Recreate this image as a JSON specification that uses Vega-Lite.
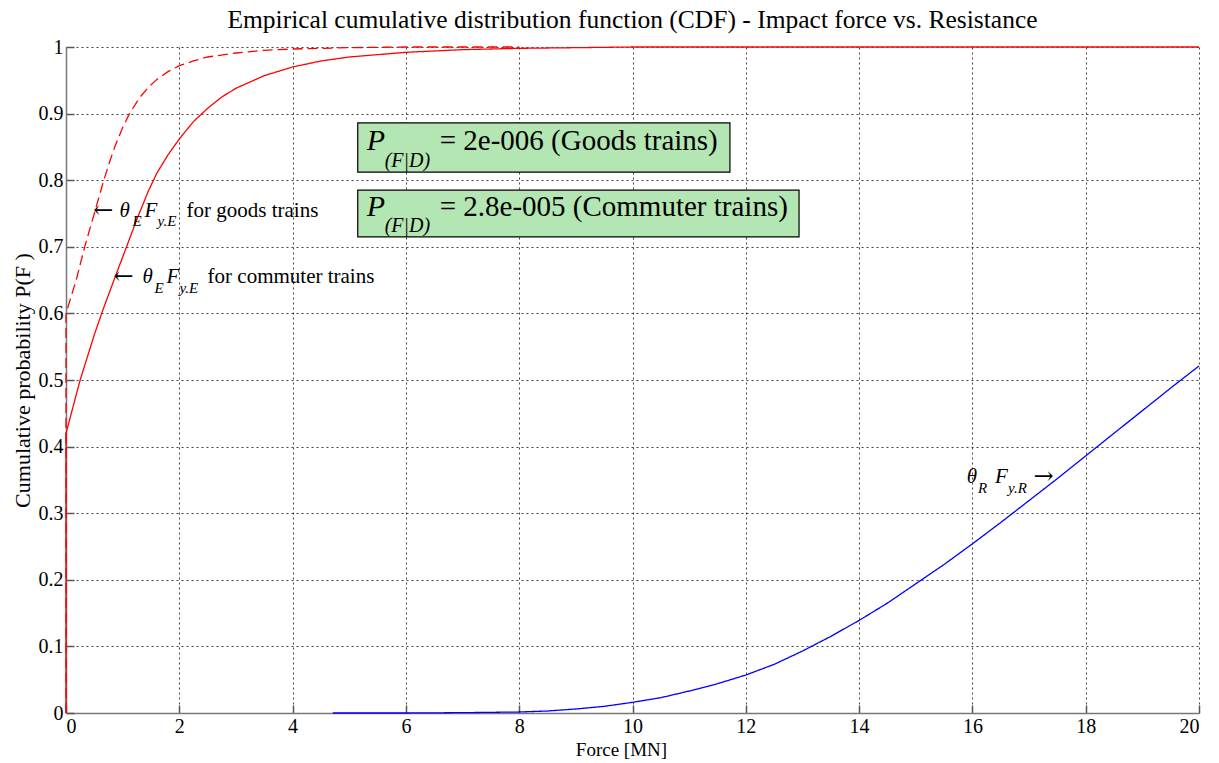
{
  "$schema": "https://vega.github.io/schema/vega-lite/v6.json",
  "width": 1133,
  "height": 666,
  "autosize": "none",
  "padding": {"left": 66, "top": 47, "right": 20, "bottom": 50},
  "background": "white",
  "config": {
    "view": {"stroke": null},
    "font": "Liberation Serif, Times New Roman, serif",
    "axis": {
      "labelFont": "Liberation Serif, Times New Roman, serif",
      "labelFontSize": 20,
      "labelColor": "#000",
      "titleFont": "Liberation Serif, Times New Roman, serif",
      "titleFontSize": 20,
      "titleFontWeight": "normal",
      "titleColor": "#000",
      "domainColor": "#777",
      "domainWidth": 1.5,
      "tickColor": "#555",
      "tickWidth": 1.5,
      "tickSize": -8,
      "labelPadding": 11,
      "gridColor": "#222",
      "gridDash": [2, 3],
      "gridWidth": 1,
      "gridOpacity": 0.85
    }
  },
  "title": {
    "text": "Empirical cumulative distribution function (CDF) - Impact force vs. Resistance",
    "font": "Liberation Serif, Times New Roman, serif",
    "fontSize": 25.5,
    "fontWeight": "normal",
    "color": "#000",
    "anchor": "middle",
    "offset": 4
  },
  "datasets": {
    "curves": [
      {"force": 0, "p": 0, "series": "goods"},
      {"force": 0, "p": 0.6, "series": "goods"},
      {"force": 0.09, "p": 0.625, "series": "goods"},
      {"force": 0.18, "p": 0.65, "series": "goods"},
      {"force": 0.33, "p": 0.7, "series": "goods"},
      {"force": 0.5, "p": 0.75, "series": "goods"},
      {"force": 0.65, "p": 0.795, "series": "goods"},
      {"force": 0.76, "p": 0.825, "series": "goods"},
      {"force": 0.86, "p": 0.85, "series": "goods"},
      {"force": 1.0, "p": 0.879, "series": "goods"},
      {"force": 1.12, "p": 0.9, "series": "goods"},
      {"force": 1.3, "p": 0.924, "series": "goods"},
      {"force": 1.45, "p": 0.939, "series": "goods"},
      {"force": 1.6, "p": 0.951, "series": "goods"},
      {"force": 1.8, "p": 0.963, "series": "goods"},
      {"force": 2.0, "p": 0.972, "series": "goods"},
      {"force": 2.25, "p": 0.979, "series": "goods"},
      {"force": 2.5, "p": 0.985, "series": "goods"},
      {"force": 3.0, "p": 0.991, "series": "goods"},
      {"force": 3.5, "p": 0.995, "series": "goods"},
      {"force": 4.0, "p": 0.997, "series": "goods"},
      {"force": 5.0, "p": 0.999, "series": "goods"},
      {"force": 6.0, "p": 1.0, "series": "goods"},
      {"force": 8.0, "p": 1.0, "series": "goods"},
      {"force": 0, "p": 0, "series": "commuter"},
      {"force": 0, "p": 0.42, "series": "commuter"},
      {"force": 0.25, "p": 0.5, "series": "commuter"},
      {"force": 0.5, "p": 0.568, "series": "commuter"},
      {"force": 0.65, "p": 0.605, "series": "commuter"},
      {"force": 0.86, "p": 0.653, "series": "commuter"},
      {"force": 1.06, "p": 0.698, "series": "commuter"},
      {"force": 1.25, "p": 0.741, "series": "commuter"},
      {"force": 1.45, "p": 0.783, "series": "commuter"},
      {"force": 1.6, "p": 0.81, "series": "commuter"},
      {"force": 1.8, "p": 0.838, "series": "commuter"},
      {"force": 2.0, "p": 0.862, "series": "commuter"},
      {"force": 2.25, "p": 0.888, "series": "commuter"},
      {"force": 2.5, "p": 0.908, "series": "commuter"},
      {"force": 2.75, "p": 0.925, "series": "commuter"},
      {"force": 3.0, "p": 0.938, "series": "commuter"},
      {"force": 3.5, "p": 0.957, "series": "commuter"},
      {"force": 4.0, "p": 0.97, "series": "commuter"},
      {"force": 4.5, "p": 0.979, "series": "commuter"},
      {"force": 5.0, "p": 0.985, "series": "commuter"},
      {"force": 6.0, "p": 0.992, "series": "commuter"},
      {"force": 7.0, "p": 0.996, "series": "commuter"},
      {"force": 8.0, "p": 0.998, "series": "commuter"},
      {"force": 10.0, "p": 1.0, "series": "commuter"},
      {"force": 20.0, "p": 1.0, "series": "commuter"},
      {"force": 4.71, "p": 0, "series": "resistance"},
      {"force": 6.0, "p": 0.0, "series": "resistance"},
      {"force": 7.0, "p": 0.0005, "series": "resistance"},
      {"force": 8.0, "p": 0.0015, "series": "resistance"},
      {"force": 8.5, "p": 0.003, "series": "resistance"},
      {"force": 9.0, "p": 0.006, "series": "resistance"},
      {"force": 9.5, "p": 0.01, "series": "resistance"},
      {"force": 10.0, "p": 0.016, "series": "resistance"},
      {"force": 10.5, "p": 0.023, "series": "resistance"},
      {"force": 11.0, "p": 0.033, "series": "resistance"},
      {"force": 11.5, "p": 0.044, "series": "resistance"},
      {"force": 12.0, "p": 0.057, "series": "resistance"},
      {"force": 12.5, "p": 0.073, "series": "resistance"},
      {"force": 13.0, "p": 0.093, "series": "resistance"},
      {"force": 13.5, "p": 0.115, "series": "resistance"},
      {"force": 14.0, "p": 0.139, "series": "resistance"},
      {"force": 14.5, "p": 0.165, "series": "resistance"},
      {"force": 15.0, "p": 0.194, "series": "resistance"},
      {"force": 15.5, "p": 0.223, "series": "resistance"},
      {"force": 16.0, "p": 0.254, "series": "resistance"},
      {"force": 16.5, "p": 0.286, "series": "resistance"},
      {"force": 17.0, "p": 0.319, "series": "resistance"},
      {"force": 17.5, "p": 0.352, "series": "resistance"},
      {"force": 18.0, "p": 0.386, "series": "resistance"},
      {"force": 18.5, "p": 0.42, "series": "resistance"},
      {"force": 19.0, "p": 0.454, "series": "resistance"},
      {"force": 19.5, "p": 0.488, "series": "resistance"},
      {"force": 20.0, "p": 0.521, "series": "resistance"}
    ],
    "boxes": [
      {"x1": 5.15, "x2": 11.72, "y1": 0.812, "y2": 0.886},
      {"x1": 5.15, "x2": 12.94, "y1": 0.715, "y2": 0.785}
    ],
    "boxP": [
      {"x": 5.307, "y": 0.8453, "t": "P"},
      {"x": 5.307, "y": 0.7462, "t": "P"}
    ],
    "boxSub": [
      {"x": 5.625, "y": 0.8198, "t": "(F|D)"},
      {"x": 5.625, "y": 0.7222, "t": "(F|D)"}
    ],
    "boxText": [
      {"x": 6.596, "y": 0.8453, "t": "= 2e-006 (Goods trains)"},
      {"x": 6.596, "y": 0.7462, "t": "= 2.8e-005 (Commuter trains)"}
    ],
    "annMain": [
      {"x": 0.945, "y": 0.745, "t": "θ"},
      {"x": 1.386, "y": 0.745, "t": "F"},
      {"x": 1.351, "y": 0.6456, "t": "θ"},
      {"x": 1.775, "y": 0.6456, "t": "F"},
      {"x": 15.9, "y": 0.3453, "t": "θ"},
      {"x": 16.4, "y": 0.3453, "t": "F"}
    ],
    "annSub": [
      {"x": 1.174, "y": 0.731, "t": "E"},
      {"x": 1.616, "y": 0.731, "t": "y.E"},
      {"x": 1.563, "y": 0.6306, "t": "E"},
      {"x": 2.004, "y": 0.6306, "t": "y.E"},
      {"x": 16.1, "y": 0.33, "t": "R"},
      {"x": 16.63, "y": 0.33, "t": "y.R"}
    ],
    "annPlain": [
      {"x": 2.128, "y": 0.745, "t": "for goods trains"},
      {"x": 2.499, "y": 0.6456, "t": "for commuter trains"}
    ],
    "arrows": [
      {"x": 0.48, "y": 0.754, "t": "←"},
      {"x": 0.84, "y": 0.655, "t": "←"},
      {"x": 17.08, "y": 0.354, "t": "→"}
    ]
  },
  "layer": [
    {
      "data": {"name": "curves"},
      "mark": {"type": "line", "strokeWidth": 1.3, "interpolate": "linear"},
      "encoding": {
        "x": {
          "field": "force",
          "type": "quantitative",
          "scale": {"domain": [0, 20], "nice": false},
          "axis": {
            "title": "Force [MN]",
            "values": [0, 2, 4, 6, 8, 10, 12, 14, 16, 18, 20],
            "format": "d",
            "titleFontSize": 19,
            "titlePadding": 4,
            "titleX": 555,
            "grid": true
          }
        },
        "y": {
          "field": "p",
          "type": "quantitative",
          "scale": {"domain": [0, 1], "nice": false},
          "axis": {
            "title": "Cumulative probability P(F )",
            "values": [0, 0.1, 0.2, 0.3, 0.4, 0.5, 0.6, 0.7, 0.8, 0.9, 1],
            "labelExpr": "datum.value == 0 ? '0' : datum.value == 1 ? '1' : format(datum.value, '.1f')",
            "titleFontSize": 22,
            "titlePadding": 4,
            "grid": true
          }
        },
        "color": {
          "field": "series",
          "type": "nominal",
          "scale": {"domain": ["goods", "commuter", "resistance"], "range": ["#ff0000", "#ff0000", "#0000ff"]},
          "legend": null
        },
        "strokeDash": {
          "field": "series",
          "type": "nominal",
          "scale": {"domain": ["goods", "commuter", "resistance"], "range": [[10, 5], [1, 0], [1, 0]]},
          "legend": null
        },
        "order": [{"field": "force", "type": "quantitative"}, {"field": "p", "type": "quantitative"}]
      }
    },
    {
      "data": {"name": "boxes"},
      "mark": {"type": "rect", "fill": "#b3e6b3", "stroke": "#000", "strokeWidth": 1.2},
      "encoding": {
        "x": {"field": "x1", "type": "quantitative"},
        "x2": {"field": "x2"},
        "y": {"field": "y1", "type": "quantitative"},
        "y2": {"field": "y2"}
      }
    },
    {
      "data": {"name": "boxP"},
      "mark": {"type": "text", "font": "Liberation Serif, Times New Roman, serif", "fontStyle": "italic", "fontSize": 30, "align": "left", "baseline": "alphabetic", "color": "#000"},
      "encoding": {
        "x": {"field": "x", "type": "quantitative"},
        "y": {"field": "y", "type": "quantitative"},
        "text": {"field": "t"}
      }
    },
    {
      "data": {"name": "boxSub"},
      "mark": {"type": "text", "font": "Liberation Serif, Times New Roman, serif", "fontStyle": "italic", "fontSize": 20, "align": "left", "baseline": "alphabetic", "color": "#000"},
      "encoding": {
        "x": {"field": "x", "type": "quantitative"},
        "y": {"field": "y", "type": "quantitative"},
        "text": {"field": "t"}
      }
    },
    {
      "data": {"name": "boxText"},
      "mark": {"type": "text", "font": "Liberation Serif, Times New Roman, serif", "fontSize": 29, "align": "left", "baseline": "alphabetic", "color": "#000"},
      "encoding": {
        "x": {"field": "x", "type": "quantitative"},
        "y": {"field": "y", "type": "quantitative"},
        "text": {"field": "t"}
      }
    },
    {
      "data": {"name": "annMain"},
      "mark": {"type": "text", "font": "Liberation Serif, Times New Roman, serif", "fontStyle": "italic", "fontSize": 21, "align": "left", "baseline": "alphabetic", "color": "#000"},
      "encoding": {
        "x": {"field": "x", "type": "quantitative"},
        "y": {"field": "y", "type": "quantitative"},
        "text": {"field": "t"}
      }
    },
    {
      "data": {"name": "annSub"},
      "mark": {"type": "text", "font": "Liberation Serif, Times New Roman, serif", "fontStyle": "italic", "fontSize": 15, "align": "left", "baseline": "alphabetic", "color": "#000"},
      "encoding": {
        "x": {"field": "x", "type": "quantitative"},
        "y": {"field": "y", "type": "quantitative"},
        "text": {"field": "t"}
      }
    },
    {
      "data": {"name": "annPlain"},
      "mark": {"type": "text", "font": "Liberation Serif, Times New Roman, serif", "fontSize": 21, "align": "left", "baseline": "alphabetic", "color": "#000"},
      "encoding": {
        "x": {"field": "x", "type": "quantitative"},
        "y": {"field": "y", "type": "quantitative"},
        "text": {"field": "t"}
      }
    },
    {
      "data": {"name": "arrows"},
      "mark": {"type": "text", "font": "DejaVu Serif", "fontSize": 24, "align": "left", "baseline": "middle", "color": "#000"},
      "encoding": {
        "x": {"field": "x", "type": "quantitative"},
        "y": {"field": "y", "type": "quantitative"},
        "text": {"field": "t"}
      }
    }
  ]
}
